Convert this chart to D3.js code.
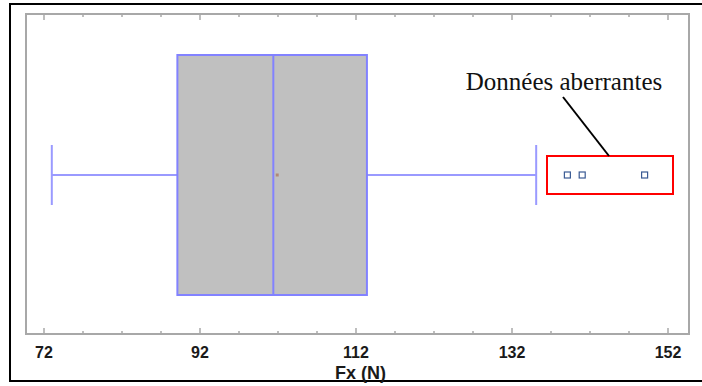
<!DOCTYPE html>
<html><head><meta charset="utf-8">
<script src="https://cdn.jsdelivr.net/npm/d3@7"></script>
<style>body{margin:0;background:#fff}svg{display:block}</style>
</head><body>
<svg id="c" width="702" height="386"></svg>
<script>
// Data (Fx in N)
const lowerWhisker = 73.0;
const q1 = 89.1;
const median = 101.4;
const q3 = 113.4;
const upperWhisker = 135.1;
const meanValue = 101.9;
const outliers = [139.1, 141.0, 149.0];
const majorTicks = [72, 92, 112, 132, 152];
const minorTicks = d3.range(72, 153, 5);
const axisTitle = "Fx (N)";
const annotation = "Données aberrantes";

const svg = d3.select("#c");
const frame = {left: 26, right: 689, top: 14, bottom: 334};
const x = d3.scaleLinear().domain([72, 152]).range([44, 668]);
const yc = 175;

// outer black border
svg.append("rect").attr("x", 10).attr("y", 4).attr("width", 700).attr("height", 377)
  .attr("fill", "none").attr("stroke", "#000").attr("stroke-width", 2);

// plot frame
svg.append("rect").attr("x", frame.left).attr("y", frame.top)
  .attr("width", frame.right - frame.left).attr("height", frame.bottom - frame.top)
  .attr("fill", "none").attr("stroke", "#a8a8a8").attr("stroke-width", 2);

// axes (ticks inward)
const tickLen = d => majorTicks.includes(d) ? 6 : 3;
const gBottom = svg.append("g").attr("transform", `translate(0,${frame.bottom})`);
gBottom.selectAll("line").data(minorTicks).join("line")
  .attr("x1", d => x(d)).attr("x2", d => x(d)).attr("y1", 0).attr("y2", d => -tickLen(d))
  .attr("stroke", "#a8a8a8").attr("stroke-width", 1.5);
gBottom.selectAll("text").data(majorTicks).join("text")
  .attr("x", d => x(d)).attr("y", 24).attr("text-anchor", "middle")
  .attr("font-family", "Liberation Sans, Arial, sans-serif").attr("font-weight", "bold")
  .attr("font-size", 16).attr("fill", "#1a1a1a").text(d => d);
const gTop = svg.append("g").attr("transform", `translate(0,${frame.top})`);
gTop.selectAll("line").data(minorTicks).join("line")
  .attr("x1", d => x(d)).attr("x2", d => x(d)).attr("y1", 0).attr("y2", d => tickLen(d))
  .attr("stroke", "#a8a8a8").attr("stroke-width", 1.5);

svg.append("text").attr("x", (frame.left + frame.right) / 2 + 3).attr("y", 379)
  .attr("text-anchor", "middle").attr("font-family", "Liberation Sans, Arial, sans-serif")
  .attr("font-weight", "bold").attr("font-size", 18).attr("fill", "#1a1a1a").text(axisTitle);

// whiskers
const wc = "#9a9aff";
svg.append("line").attr("x1", x(lowerWhisker)).attr("x2", x(q1)).attr("y1", yc).attr("y2", yc)
  .attr("stroke", wc).attr("stroke-width", 2);
svg.append("line").attr("x1", x(q3)).attr("x2", x(upperWhisker)).attr("y1", yc).attr("y2", yc)
  .attr("stroke", wc).attr("stroke-width", 2);
[lowerWhisker, upperWhisker].forEach(v => {
  svg.append("line").attr("x1", x(v)).attr("x2", x(v)).attr("y1", 145).attr("y2", 205)
    .attr("stroke", wc).attr("stroke-width", 2);
});

// box
svg.append("rect").attr("x", x(q1)).attr("y", 55).attr("width", x(q3) - x(q1)).attr("height", 240)
  .attr("fill", "#c0c0c0").attr("stroke", "#8282ff").attr("stroke-width", 2);
svg.append("line").attr("x1", x(median)).attr("x2", x(median)).attr("y1", 55).attr("y2", 295)
  .attr("stroke", "#8282ff").attr("stroke-width", 2);
svg.append("rect").attr("x", x(meanValue) - 1.5).attr("y", yc - 1.5).attr("width", 3).attr("height", 3)
  .attr("fill", "#b08878");

// outliers
svg.selectAll(".out").data(outliers).join("rect").attr("class", "out")
  .attr("x", d => x(d) - 3).attr("y", yc - 3).attr("width", 6).attr("height", 6)
  .attr("fill", "#fff").attr("stroke", "#3b5b94").attr("stroke-width", 1.2);

// highlight box
svg.append("rect").attr("x", 547).attr("y", 156).attr("width", 126).attr("height", 38)
  .attr("fill", "none").attr("stroke", "#ff0000").attr("stroke-width", 2);
svg.append("line").attr("x1", 563).attr("y1", 97).attr("x2", 609).attr("y2", 156)
  .attr("stroke", "#000").attr("stroke-width", 2);
svg.append("text").attr("x", 564).attr("y", 90).attr("text-anchor", "middle")
  .attr("font-family", "Liberation Serif, Times New Roman, serif").attr("font-size", 25)
  .attr("fill", "#111").text(annotation);
</script>
</body></html>
